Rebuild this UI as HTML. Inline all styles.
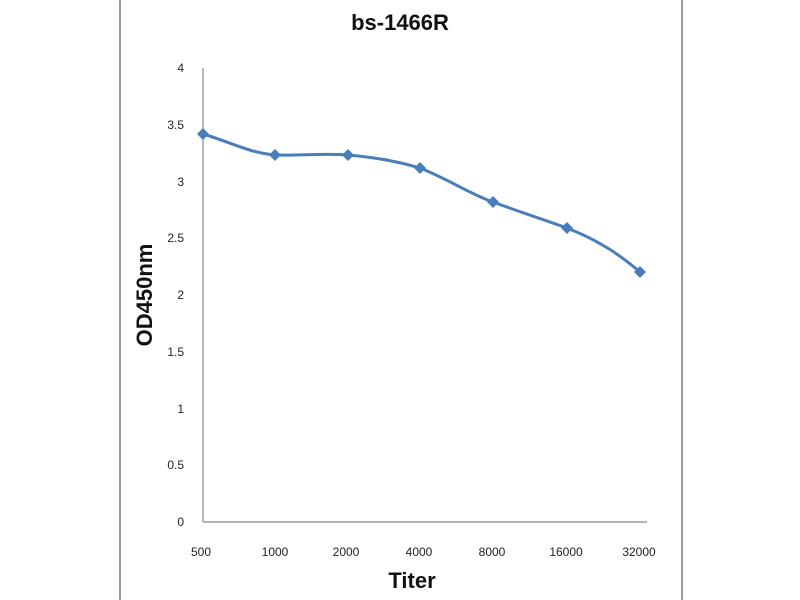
<!DOCTYPE html>
<html><head><style>body{margin:0;background:#fff}svg{display:block}</style></head>
<body>
<svg width="800" height="600" xmlns="http://www.w3.org/2000/svg" font-family="'Liberation Sans',sans-serif">
<rect width="800" height="600" fill="#fff"/>
<line x1="120" y1="0" x2="120" y2="600" stroke="#9a9a9a" stroke-width="2"/>
<line x1="682" y1="0" x2="682" y2="600" stroke="#9a9a9a" stroke-width="2"/>
<text x="400" y="30" text-anchor="middle" font-size="22" font-weight="bold" fill="#111">bs-1466R</text>
<line x1="203" y1="68" x2="203" y2="522" stroke="#888" stroke-width="1.2"/>
<line x1="203" y1="522" x2="647" y2="522" stroke="#888" stroke-width="1.2"/>
<g font-size="12" fill="#222" text-anchor="end">
<text x="184" y="526">0</text><text x="184" y="469">0.5</text><text x="184" y="413">1</text>
<text x="184" y="356">1.5</text><text x="184" y="299">2</text><text x="184" y="242">2.5</text>
<text x="184" y="186">3</text><text x="184" y="129">3.5</text><text x="184" y="72">4</text>
</g>
<g font-size="12" fill="#222" text-anchor="middle">
<text x="201" y="556">500</text><text x="275" y="556">1000</text><text x="346" y="556">2000</text>
<text x="419" y="556">4000</text><text x="492" y="556">8000</text><text x="566" y="556">16000</text><text x="639" y="556">32000</text>
</g>
<text x="412" y="588" text-anchor="middle" font-size="22" font-weight="bold" fill="#111">Titer</text>
<text transform="translate(152,295) rotate(-90)" text-anchor="middle" font-size="22" font-weight="bold" fill="#111">OD450nm</text>
<path d="M203,134 C230,142 250,153 275,155 C300,156 320,153 348,155 C380,158 400,162 420,168 C450,180 470,194 493,202 C520,212 545,220 567,228 C600,241 620,255 640,272" fill="none" stroke="#4a7ebb" stroke-width="3"/>
<g fill="#4a7ebb">
<path d="M203,128 l6,6 -6,6 -6,-6z"/><path d="M275,149 l6,6 -6,6 -6,-6z"/><path d="M348,149 l6,6 -6,6 -6,-6z"/>
<path d="M420,162 l6,6 -6,6 -6,-6z"/><path d="M493,196 l6,6 -6,6 -6,-6z"/><path d="M567,222 l6,6 -6,6 -6,-6z"/><path d="M640,266 l6,6 -6,6 -6,-6z"/>
</g>
</svg>
</body></html>
